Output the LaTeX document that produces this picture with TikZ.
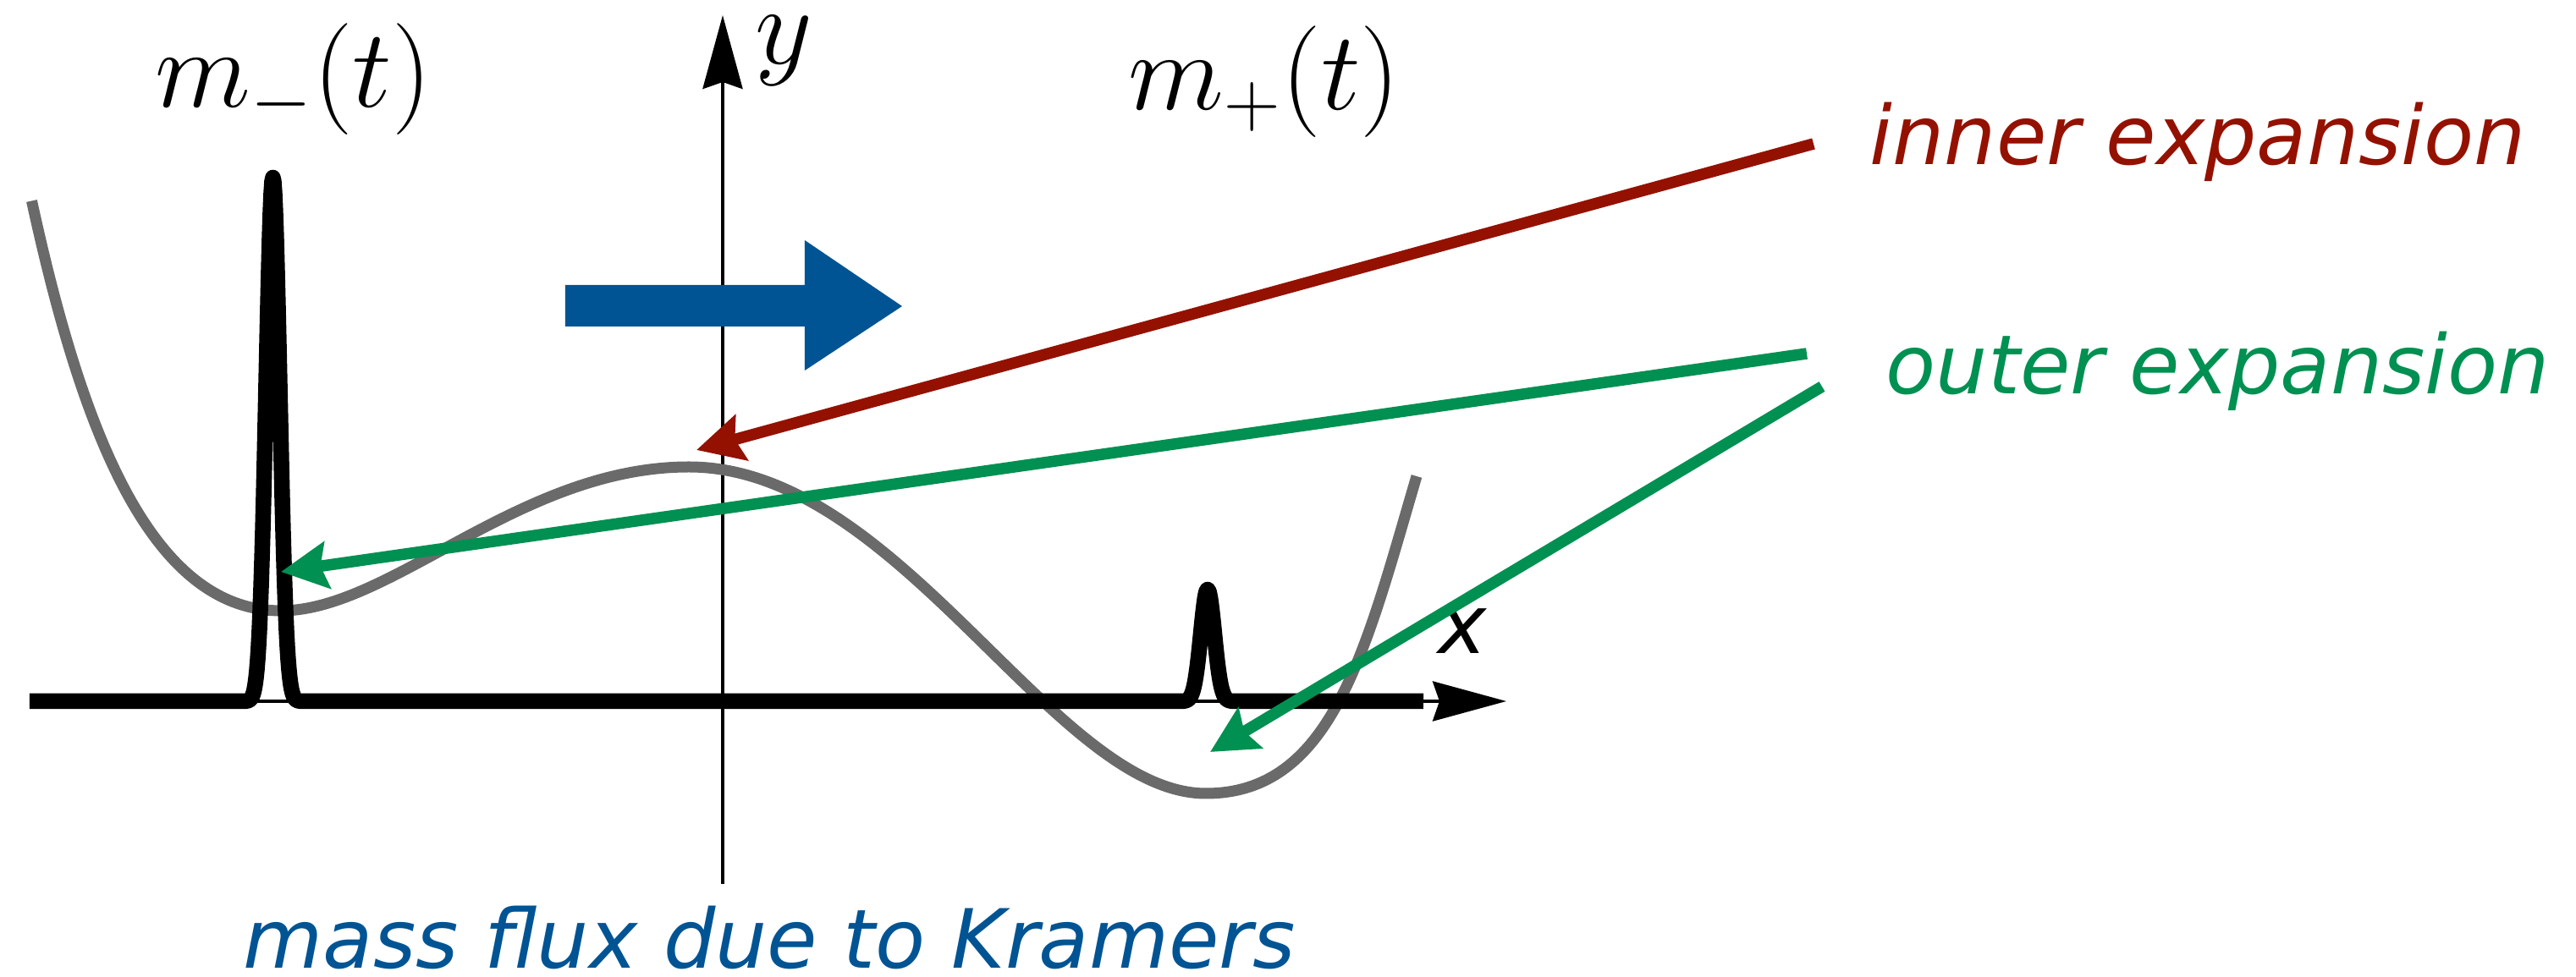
\RequirePackage{fix-cm}
\documentclass[tikz,border=0pt]{standalone}
\usepackage{fontspec}
\newfontfamily\labelfont{DejaVu Sans}
\usetikzlibrary{arrows.meta}
\definecolor{ocean}{HTML}{005493}
\definecolor{cayenne}{HTML}{941100}
\definecolor{moss}{HTML}{009051}
\definecolor{potgray}{HTML}{6A6A6A}
\begin{document}
\begin{tikzpicture}[
    axis/.style={line width=1.1pt,-{Stealth[length=0.87cm,width=0.47cm,inset=0.08cm]}},
    potential/.style={potgray,line width=0.13cm},
    density/.style={black,line width=0.185cm,line join=round},
    expline/.style={line width=0.135cm,-{Stealth[length=0.55cm,width=0.55cm,inset=0.08cm]}},
    mlabel/.style={inner sep=0pt,font=\fontsize{37.5}{42}\selectfont},
    explabel/.style={inner sep=0pt,font=\labelfont\itshape\fontsize{27.5}{33}\selectfont}]
    \useasboundingbox (-8.54,-3.26) rectangle (21.90,8.29);
    \coordinate (xl) at (-8.19,0);
    \coordinate (xr) at (9.26,0);
    \coordinate (yb) at (0,-2.16);
    \coordinate (yt) at (0,8.11);
    \draw[axis] (xl) -- (xr);
    \draw[axis] (yb) -- (yt);
    \draw[potential] (-8.165,5.915) .. controls (-7.6,3.32) and (-6.8,1.07) .. (-5.22,1.07)
        .. controls (-3.92,1.07) and (-2.4,2.77) .. (-0.4,2.77)
        .. controls (2.1,2.77) and (3.91,-1.09) .. (5.71,-1.09)
        .. controls (7.21,-1.09) and (7.60,0.62) .. (8.20,2.66);
    \draw[density] (xl) -- (-5.715,0)
        -- plot[domain=-5.715:-4.915,samples=81] (\x,{6.19*exp(-(\x+5.315)*(\x+5.315)/0.0128)})
        -- (5.33,0)
        -- plot[domain=5.33:6.13,samples=81] (\x,{1.32*exp(-(\x-5.73)*(\x-5.73)/0.0128)})
        -- (8.28,0);
    \node[mlabel] (mminus) at (-5.07,7.35) {$m_-(t)$};
    \node[mlabel] (mplus) at (6.40,7.32) {$m_+(t)$};
    \node[mlabel] (ylab) at (0.72,7.69) {$y$};
    \node[explabel] (xlab) at (8.74,0.83) {x};
    \node[explabel,cayenne,anchor=base west] (inner) at (13.55,6.34) {inner expansion};
    \node[explabel,moss,anchor=base west] (outer) at (13.74,3.63) {outer expansion};
    \node[explabel,ocean,anchor=base west] (flux) at (-5.67,-3.16) {mass flux due to Kramers};
    \coordinate (innerS) at (12.89,6.59);
    \coordinate (outerS) at (12.81,4.11);
    \coordinate (outerT) at (12.99,3.72);
    \coordinate (barrier) at (-0.31,2.97);
    \coordinate (wellL) at (-5.22,1.53);
    \coordinate (wellR) at (5.76,-0.60);
    \draw[expline,cayenne] (innerS) -- (barrier);
    \draw[expline,moss] (outerS) -- (wellL);
    \draw[expline,moss] (outerT) -- (wellR);
    \fill[ocean] (-1.86,4.43) -- (0.97,4.43) -- (0.97,3.91) -- (2.12,4.67)
        -- (0.97,5.45) -- (0.97,4.92) -- (-1.86,4.92) -- cycle;
\end{tikzpicture}
\end{document}
